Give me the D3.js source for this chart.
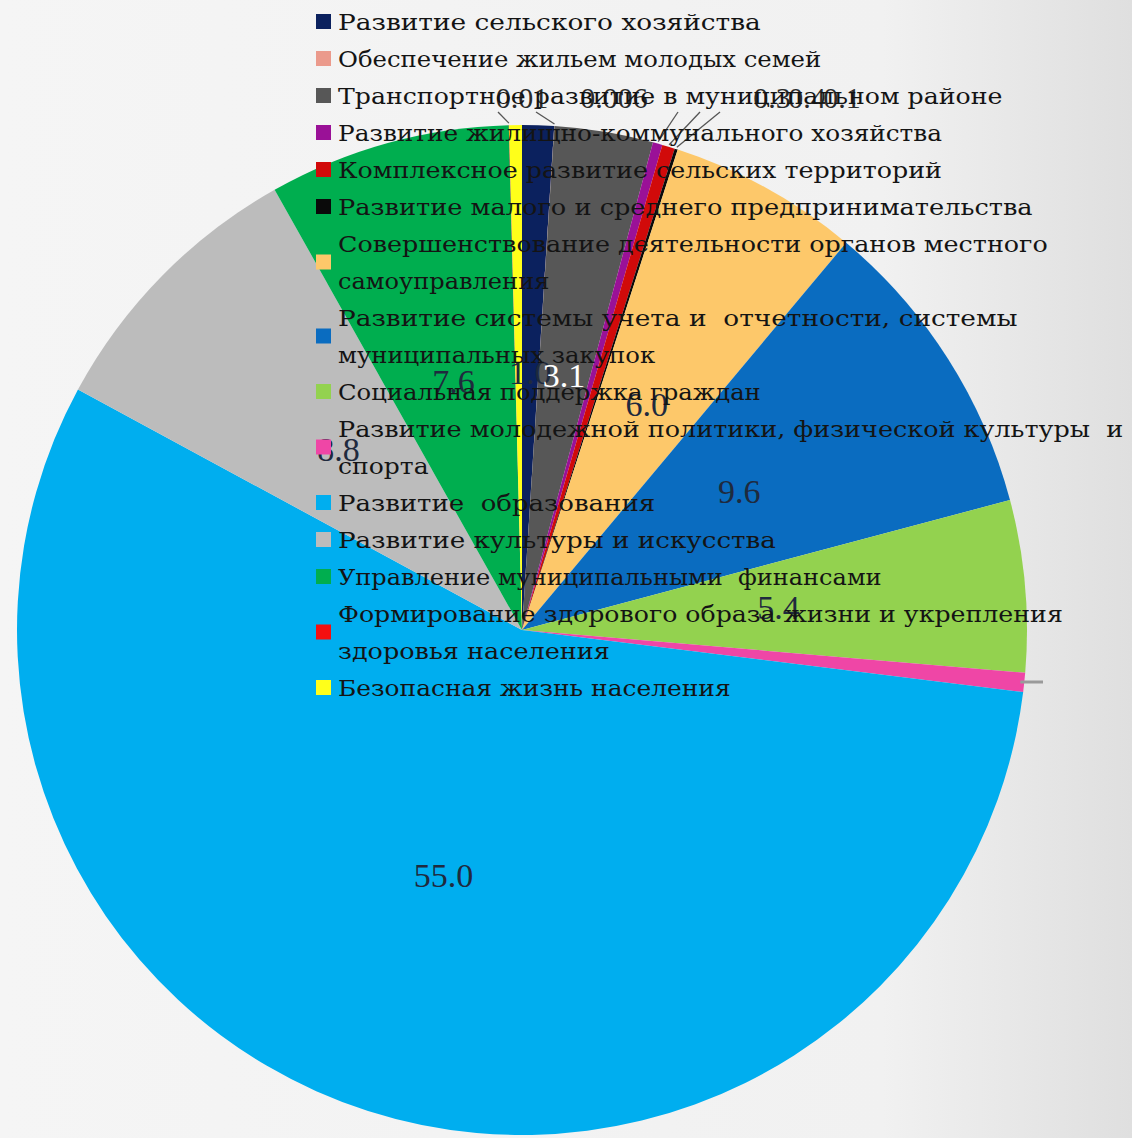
<!DOCTYPE html>
<html>
<head>
<meta charset="utf-8">
<script src="https://cdn.jsdelivr.net/npm/d3@7"></script>
<style>
  html, body { margin: 0; padding: 0; background: #f3f3f3; }
  svg { display: block; }
</style>
</head>
<body>
<svg id="chart" width="1132" height="1138"></svg>
<script>
// Programme shares, clockwise from 12 o'clock
const categories = [
  "Развитие сельского хозяйства",
  "Обеспечение жильем молодых семей",
  "Транспортное развитие в муниципальном районе",
  "Развитие жилищно-коммунального хозяйства",
  "Комплексное развитие сельских территорий",
  "Развитие малого и среднего предпринимательства",
  "Совершенствование деятельности органов местного\nсамоуправления",
  "Развитие системы учета и  отчетности, системы\nмуниципальных закупок",
  "Социальная поддержка граждан",
  "Развитие молодежной политики, физической культуры  и\nспорта",
  "Развитие  образования",
  "Развитие культуры и искусства",
  "Управление муниципальными  финансами",
  "Формирование здорового образа жизни и укрепления\nздоровья населения",
  "Безопасная жизнь населения"
];
const values = [1.0, 0.006, 3.1, 0.3, 0.4, 0.1, 6.0, 9.6, 5.4, 0.6, 55.0, 8.8, 7.6, 0.01, 0.4];
const valueLabels = ["1.0", "0.006", "3.1", "0.3", "0.4", "0.1", "6.0", "9.6", "5.4", "0.6", "55.0", "8.8", "7.6", "0.01", "0.4"];
const colors = [
  "#0b215e", "#eb9a8c", "#575757", "#9a1197", "#d10a0a", "#0a0a0a",
  "#fdc86a", "#0a6cc0", "#93d24f", "#ef46a6", "#00aeef", "#bcbcbc",
  "#00ae4f", "#f50f0f", "#ffff1a"
];

// how each value label is placed: inside the slice, with a leader line above, a bare leader, or not drawn
const labelMode = ["in", "top", "in", "top", "top", "top", "in", "in", "in", "leader", "in", "in", "in", "top", "none"];
const labelWhite = [false, false, true, false, false, false, false, false, false, false, false, false, false, false, false];

const svg = d3.select("#chart");
const W = 1132, H = 1138;

// background with a soft darkening towards the right edge
const defs = svg.append("defs");
const bg = defs.append("linearGradient").attr("id", "bg").attr("x1", 0).attr("x2", 1).attr("y1", 0).attr("y2", 0);
bg.append("stop").attr("offset", "0%").attr("stop-color", "#f5f5f5");
bg.append("stop").attr("offset", "78%").attr("stop-color", "#f1f1f1");
bg.append("stop").attr("offset", "100%").attr("stop-color", "#dfdfdf");
svg.append("rect").attr("width", W).attr("height", H).attr("fill", "url(#bg)");

const cx = 522, cy = 630, R = 505;
const g = svg.append("g").attr("transform", `translate(${cx},${cy})`);

const pie = d3.pie().sort(null).value(d => d)(values);
const arc = d3.arc().innerRadius(0).outerRadius(R);
const labelArc = d3.arc().innerRadius(R * 0.51).outerRadius(R * 0.51);

g.selectAll("path.slice")
  .data(pie)
  .join("path")
  .attr("class", "slice")
  .attr("d", arc)
  .attr("fill", (d, i) => colors[i]);

// point on a circle of radius r at a pie angle (0 = up, clockwise)
const polar = (a, r) => [Math.sin(a) * r, -Math.cos(a) * r];
const mid = d => (d.startAngle + d.endAngle) / 2;

// inside labels
const inside = pie.map((d, i) => ({ d, i })).filter(o => labelMode[o.i] === "in");
g.selectAll("text.inlabel")
  .data(inside)
  .join("text")
  .attr("class", "inlabel")
  .attr("x", o => labelArc.centroid(o.d)[0])
  .attr("y", o => labelArc.centroid(o.d)[1])
  .attr("text-anchor", "middle")
  .attr("dominant-baseline", "central")
  .attr("font-family", "'Liberation Serif', 'Times New Roman', serif")
  .attr("font-size", 34)
  .attr("fill", o => labelWhite[o.i] ? "#ffffff" : "#1f2a3e")
  .text(o => valueLabels[o.i]);

// small slices at the top get leader lines to labels set above the pie
const topSlots = {
  13: { lx: -24, tx: 0, tw: "0.01" },
  1:  { lx: 14, tx: 92 },
  3:  { lx: 156, tx: 250 },
  4:  { lx: 178, tx: 285 },
  5:  { lx: 198, tx: 320 }
};
const topY = 108 - cy;
Object.keys(topSlots).forEach(k => {
  const i = +k, d = pie[i], s = topSlots[k];
  const p = polar(mid(d), R + 2);
  g.append("line")
    .attr("x1", p[0]).attr("y1", p[1])
    .attr("x2", s.lx).attr("y2", topY + 4)
    .attr("stroke", "#555").attr("stroke-width", 1.3);
  g.append("text")
    .attr("x", s.tx).attr("y", topY)
    .attr("text-anchor", "middle")
    .attr("font-family", "'Liberation Serif', 'Times New Roman', serif")
    .attr("font-size", 30)
    .attr("fill", "#2a2a2a")
    .text(valueLabels[i]);
});

// bare leader on the thin slice at the right edge
pie.forEach((d, i) => {
  if (labelMode[i] !== "leader") return;
  const p = polar(mid(d), R - 4);
  g.append("line")
    .attr("x1", p[0]).attr("y1", p[1])
    .attr("x2", R + 16).attr("y2", p[1])
    .attr("stroke", "#9a9a9a").attr("stroke-width", 3);
});

// legend, drawn over the pie
const lineH = 37, legTop = 22, markX = 316, textX = 338, charW = 15.1;
const leg = svg.append("g");
let lineIdx = 0;
categories.forEach((name, i) => {
  const lines = name.split("\n");
  const first = lineIdx;
  lines.forEach(t => {
    const y = legTop + lineIdx * lineH;
    leg.append("text")
      .attr("x", textX).attr("y", y)
      .attr("dominant-baseline", "central")
      .attr("font-family", "'DejaVu Serif', serif")
      .attr("font-size", 22)
      .attr("fill", "#141414")
      .attr("textLength", t.length * charW)
      .attr("lengthAdjust", "spacingAndGlyphs")
      .style("white-space", "pre")
      .text(t);
    lineIdx++;
  });
  const my = legTop + ((first + lineIdx - 1) / 2) * lineH;
  leg.append("rect")
    .attr("x", markX).attr("y", my - 8)
    .attr("width", 15).attr("height", 15)
    .attr("fill", colors[i]);
});
</script>
</body>
</html>
